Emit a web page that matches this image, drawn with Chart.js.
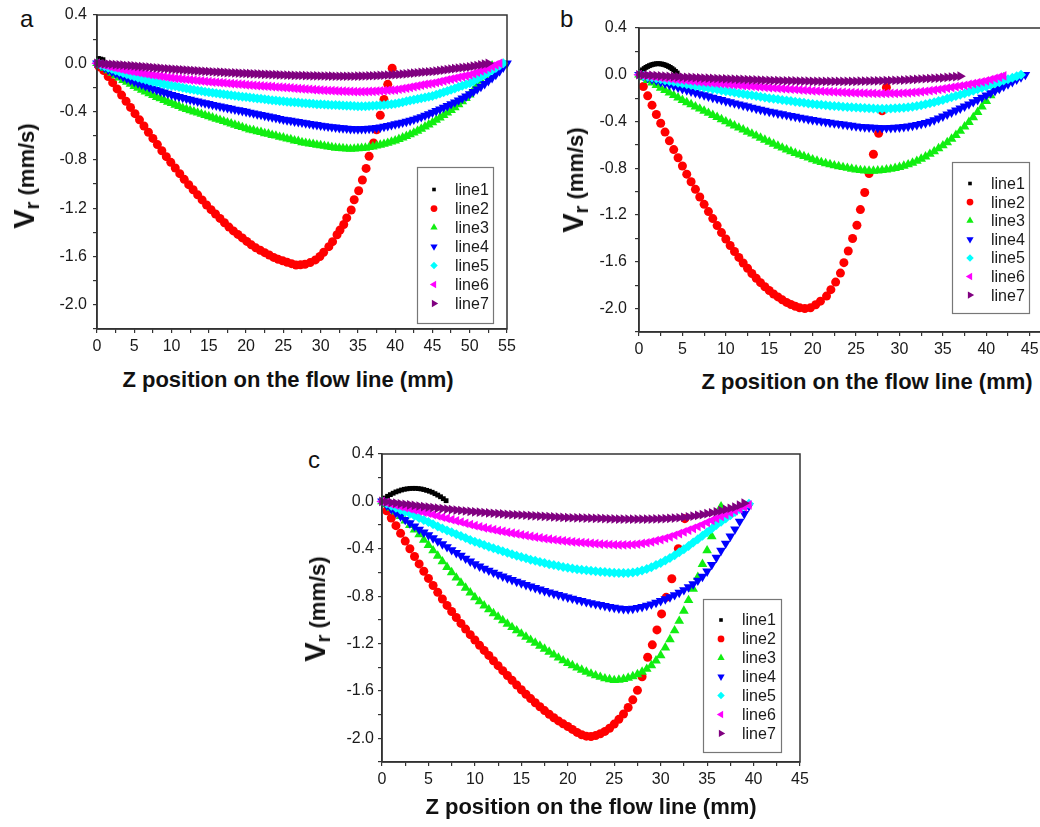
<!DOCTYPE html>
<html lang="en">
<head>
  <meta charset="UTF-8" />
  <title>Radial velocity along the flow lines</title>
  <script src="https://cdn.jsdelivr.net/npm/chart.js"></script>
  <style>
    body {
      margin: 0;
      width: 1040px;
      height: 827px;
      overflow: hidden;
      position: relative;
      background: #fff;
      font-family: Arial, "Liberation Sans", sans-serif;
      color: #111;
    }
    .panel { position: absolute; }
    .letter { position: absolute; font-size: 24px; line-height: 1; }
    .xtitle {
      position: absolute;
      font-weight: bold;
      font-size: 22px;
      line-height: 1;
      white-space: nowrap;
      transform: translateX(-50%);
    }
    .ytitle {
      position: absolute;
      font-weight: bold;
      font-size: 22px;
      line-height: 1;
      white-space: nowrap;
      transform: translate(-50%, -50%) rotate(-90deg);
    }
    .ytitle .big { font-size: 29px; }
    .ytitle sub { font-size: 20px; vertical-align: -5px; }
  </style>
</head>
<body>
  <div class="letter" style="left:20px; top:7px;">a</div>
  <div class="letter" style="left:560px; top:7px;">b</div>
  <div class="letter" style="left:308px; top:448px;">c</div>

  <canvas id="chartA" class="panel" width="520" height="360" style="left:0; top:0;"></canvas>
  <canvas id="chartB" class="panel" width="517" height="362" style="left:540px; top:0;"></canvas>
  <canvas id="chartC" class="panel" width="520" height="356" style="left:290px; top:440px;"></canvas>

  <div class="ytitle" style="left:26px; top:176px;"><span class="big">V</span><sub>r</sub> (mm/s)</div>
  <div class="ytitle" style="left:575px; top:180px;"><span class="big">V</span><sub>r</sub> (mm/s)</div>
  <div class="ytitle" style="left:317px; top:609px;"><span class="big">V</span><sub>r</sub> (mm/s)</div>

  <div class="xtitle" style="left:288px; top:369px;">Z position on the flow line (mm)</div>
  <div class="xtitle" style="left:867px; top:371px;">Z position on the flow line (mm)</div>
  <div class="xtitle" style="left:591px; top:796px;">Z position on the flow line (mm)</div>

  <script>
    // z positions (mm) shared by line3..line7 in all three panels
    const zGrid = [
      0,0.5,1,1.5,2,2.5,3,3.5,4,4.5,
      5,5.5,6,6.5,7,7.5,8,8.5,9,9.5,
      10,10.5,11,11.5,12,12.5,13,13.5,14,14.5,
      15,15.5,16,16.5,17,17.5,18,18.5,19,19.5,
      20,20.5,21,21.5,22,22.5,23,23.5,24,24.5,
      25,25.5,26,26.5,27,27.5,28,28.5,29,29.5,
      30,30.5,31,31.5,32,32.5,33,33.5,34,34.5,
      35,35.5,36,36.5,37,37.5,38,38.5,39,39.5,
      40,40.5,41,41.5,42,42.5,43,43.5,44,44.5,
      45,45.5,46,46.5,47,47.5,48,48.5,49,49.5,
      50,50.5,51,51.5,52,52.5,53,53.5,54,54.5,55
    ];

    const seriesNames = ['line1', 'line2', 'line3', 'line4', 'line5', 'line6', 'line7'];

    // ---- panel a ----
    const aLine1Z = [0.2, 0.5, 0.8];
    const aLine1 = [0.04, 0.035, 0.03];
    const aLine2Z = [
      0.3,0.9,1.5,2.1,2.7,3.3,3.9,4.5,5.1,5.7,
      6.3,6.9,7.5,8.1,8.7,9.3,9.9,10.5,11.1,11.7,
      12.3,12.9,13.5,14.1,14.7,15.3,15.9,16.5,17.1,17.7,
      18.3,18.9,19.5,20.1,20.7,21.3,21.9,22.5,23.1,23.7,
      24.3,24.9,25.5,26.1,26.7,
      27.3,27.9,28.6,29.3,29.9,30.4,31.1,31.6,32.2,32.6,
      33.1,33.5,34.1,34.5,35.1,35.6,36.1,36.5,37.1,37.5,
      38.0,38.5,39.0,39.6
    ];
    const aLine2 = [
      -0.03,-0.06,-0.109,-0.16,-0.212,-0.263,-0.314,-0.365,-0.417,-0.468,
      -0.519,-0.571,-0.622,-0.673,-0.724,-0.773,-0.82,-0.867,-0.914,-0.961,
      -1.005,-1.047,-1.089,-1.131,-1.173,-1.212,-1.248,-1.284,-1.32,-1.356,
      -1.388,-1.417,-1.446,-1.475,-1.503,-1.528,-1.548,-1.568,-1.587,-1.607,
      -1.623,-1.635,-1.647,-1.659,-1.67,
      -1.669,-1.664,-1.65,-1.628,-1.6,-1.565,-1.518,-1.477,-1.42,-1.38,
      -1.335,-1.28,-1.215,-1.13,-1.055,-0.966,-0.87,-0.77,-0.66,-0.55,
      -0.43,-0.3,-0.174,-0.04
    ];
    const aLine3 = [
      0,-0.02,-0.04,-0.06,-0.08,-0.1,-0.12,-0.14,-0.155,-0.17,
      -0.19,-0.205,-0.22,-0.235,-0.25,-0.265,-0.28,-0.29,-0.305,-0.32,
      -0.33,-0.345,-0.355,-0.37,-0.38,-0.39,-0.4,-0.41,-0.42,-0.43,
      -0.44,-0.45,-0.46,-0.47,-0.48,-0.49,-0.5,-0.51,-0.52,-0.53,
      -0.54,-0.55,-0.555,-0.565,-0.57,-0.58,-0.585,-0.595,-0.6,-0.61,
      -0.615,-0.625,-0.63,-0.64,-0.645,-0.655,-0.66,-0.665,-0.67,-0.675,
      -0.68,-0.685,-0.69,-0.695,-0.7,-0.703,-0.705,-0.708,-0.71,-0.708,
      -0.705,-0.703,-0.7,-0.695,-0.69,-0.683,-0.675,-0.668,-0.66,-0.65,
      -0.64,-0.628,-0.615,-0.603,-0.59,-0.575,-0.56,-0.543,-0.525,-0.508,
      -0.49,-0.47,-0.45,-0.43,-0.41,-0.388,-0.365,-0.34,-0.315,-0.288,
      -0.26,-0.223,-0.185,-0.145,-0.105,-0.063,-0.02
    ];
    const aLine4 = [
      0,-0.018,-0.035,-0.052,-0.068,-0.083,-0.097,-0.111,-0.125,-0.139,
      -0.152,-0.164,-0.175,-0.187,-0.198,-0.209,-0.22,-0.23,-0.24,-0.25,
      -0.26,-0.269,-0.277,-0.285,-0.293,-0.3,-0.308,-0.315,-0.322,-0.329,
      -0.336,-0.343,-0.349,-0.356,-0.362,-0.369,-0.375,-0.382,-0.388,-0.394,
      -0.4,-0.407,-0.413,-0.42,-0.426,-0.433,-0.439,-0.446,-0.452,-0.459,
      -0.465,-0.47,-0.475,-0.48,-0.485,-0.49,-0.495,-0.5,-0.505,-0.51,
      -0.515,-0.519,-0.523,-0.527,-0.53,-0.534,-0.537,-0.54,-0.543,-0.544,
      -0.545,-0.544,-0.543,-0.541,-0.538,-0.534,-0.53,-0.524,-0.518,-0.511,
      -0.503,-0.497,-0.49,-0.483,-0.475,-0.465,-0.455,-0.444,-0.432,-0.42,
      -0.407,-0.394,-0.38,-0.366,-0.352,-0.337,-0.322,-0.306,-0.29,-0.273,
      -0.255,-0.235,-0.215,-0.193,-0.17,-0.145,-0.12,-0.093,-0.065,-0.033,0
    ];
    const aLine5 = [
      0,-0.013,-0.025,-0.037,-0.048,-0.059,-0.07,-0.08,-0.09,-0.1,
      -0.11,-0.119,-0.128,-0.136,-0.144,-0.152,-0.159,-0.166,-0.173,-0.179,
      -0.185,-0.191,-0.197,-0.203,-0.208,-0.214,-0.219,-0.225,-0.23,-0.235,
      -0.24,-0.244,-0.248,-0.252,-0.256,-0.26,-0.264,-0.268,-0.272,-0.276,
      -0.28,-0.284,-0.287,-0.291,-0.294,-0.298,-0.301,-0.305,-0.308,-0.312,
      -0.315,-0.318,-0.32,-0.323,-0.325,-0.328,-0.33,-0.333,-0.335,-0.338,
      -0.34,-0.342,-0.343,-0.345,-0.346,-0.348,-0.349,-0.351,-0.352,-0.354,
      -0.355,-0.355,-0.355,-0.354,-0.352,-0.35,-0.348,-0.345,-0.342,-0.339,
      -0.335,-0.329,-0.322,-0.315,-0.308,-0.301,-0.295,-0.289,-0.283,-0.277,
      -0.27,-0.26,-0.25,-0.24,-0.23,-0.219,-0.208,-0.197,-0.186,-0.176,
      -0.165,-0.148,-0.13,-0.112,-0.094,-0.076,-0.057,-0.038,-0.019,0
    ];
    const aLine6 = [
      0,-0.008,-0.016,-0.024,-0.031,-0.038,-0.045,-0.052,-0.058,-0.064,
      -0.07,-0.076,-0.081,-0.086,-0.091,-0.096,-0.101,-0.106,-0.111,-0.116,
      -0.12,-0.124,-0.127,-0.131,-0.134,-0.137,-0.14,-0.143,-0.146,-0.149,
      -0.152,-0.155,-0.157,-0.16,-0.162,-0.165,-0.168,-0.17,-0.173,-0.175,
      -0.178,-0.18,-0.182,-0.185,-0.187,-0.189,-0.191,-0.193,-0.196,-0.198,
      -0.2,-0.202,-0.204,-0.207,-0.209,-0.211,-0.213,-0.215,-0.218,-0.22,
      -0.222,-0.224,-0.225,-0.227,-0.228,-0.23,-0.231,-0.232,-0.233,-0.234,
      -0.235,-0.235,-0.234,-0.233,-0.232,-0.23,-0.228,-0.226,-0.224,-0.222,
      -0.22,-0.215,-0.21,-0.205,-0.199,-0.193,-0.187,-0.181,-0.175,-0.17,
      -0.166,-0.159,-0.152,-0.145,-0.138,-0.131,-0.124,-0.117,-0.11,-0.104,
      -0.097,-0.086,-0.074,-0.062,-0.05,-0.038,-0.025,-0.013,0
    ];
    const aLine7 = [
      0,-0.002,-0.004,-0.006,-0.008,-0.011,-0.013,-0.015,-0.018,-0.02,
      -0.022,-0.025,-0.027,-0.03,-0.032,-0.035,-0.038,-0.04,-0.043,-0.045,
      -0.048,-0.05,-0.052,-0.054,-0.056,-0.058,-0.06,-0.062,-0.064,-0.066,
      -0.068,-0.07,-0.072,-0.073,-0.075,-0.077,-0.078,-0.08,-0.081,-0.083,
      -0.084,-0.085,-0.087,-0.088,-0.089,-0.091,-0.092,-0.093,-0.094,-0.096,
      -0.097,-0.098,-0.099,-0.1,-0.101,-0.101,-0.102,-0.103,-0.104,-0.104,
      -0.105,-0.105,-0.106,-0.106,-0.107,-0.107,-0.107,-0.107,-0.107,-0.107,
      -0.106,-0.106,-0.105,-0.104,-0.103,-0.102,-0.1,-0.099,-0.097,-0.096,
      -0.094,-0.092,-0.089,-0.087,-0.084,-0.081,-0.078,-0.075,-0.072,-0.07,
      -0.068,-0.064,-0.06,-0.056,-0.052,-0.048,-0.044,-0.04,-0.036,-0.033,
      -0.03,-0.024,-0.018,-0.012,-0.006,0
    ];

    // ---- panel b ----
    const bLine1Z = [0.2,0.4,0.6,0.8,1.0,1.2,1.4,1.6,1.8,2.0,2.2,2.4,2.6,2.8,3.0,3.2,3.4,3.6,3.8,4.0,4.2,4.4];
    const bLine1 = [0.029,0.042,0.053,0.063,0.071,0.078,0.084,0.089,0.092,0.094,0.095,0.094,0.092,0.089,0.084,0.078,0.071,0.063,0.053,0.042,0.029,0.015];
    const bLine2Z = [
      0.5,1,1.5,2,2.5,3,3.5,4,4.5,5,
      5.5,6,6.5,7,7.5,8,8.5,9,9.5,10,
      10.5,11,11.5,12,12.5,13,13.5,14,14.5,15,
      15.5,16,16.5,17,17.5,18,18.5,19.1,
      19.75,20.35,20.9,21.6,22.1,22.65,23.2,23.6,24.1,24.6,
      25.1,25.5,26.0,26.5,27.0,27.6,28.0,28.5
    ];
    const bLine2 = [
      -0.1,-0.18,-0.26,-0.34,-0.415,-0.49,-0.565,-0.64,-0.71,-0.78,
      -0.85,-0.915,-0.98,-1.045,-1.108,-1.17,-1.23,-1.29,-1.35,-1.405,
      -1.46,-1.512,-1.562,-1.61,-1.655,-1.7,-1.74,-1.778,-1.813,-1.845,
      -1.875,-1.9,-1.925,-1.947,-1.965,-1.98,-1.993,-2.0,
      -1.993,-1.967,-1.936,-1.893,-1.838,-1.773,-1.696,-1.607,-1.507,-1.4,
      -1.287,-1.153,-1.007,-0.845,-0.68,-0.5,-0.308,-0.108
    ];
    const bLine3 = [
      0,-0.023,-0.046,-0.068,-0.09,-0.112,-0.133,-0.154,-0.175,-0.196,
      -0.217,-0.236,-0.254,-0.273,-0.291,-0.309,-0.327,-0.345,-0.363,-0.382,
      -0.4,-0.418,-0.435,-0.453,-0.47,-0.488,-0.505,-0.522,-0.54,-0.557,
      -0.574,-0.591,-0.608,-0.624,-0.64,-0.655,-0.67,-0.684,-0.697,-0.71,
      -0.725,-0.737,-0.748,-0.758,-0.767,-0.776,-0.784,-0.791,-0.798,-0.805,
      -0.812,-0.817,-0.82,-0.822,-0.822,-0.82,-0.817,-0.812,-0.806,-0.799,
      -0.79,-0.78,-0.768,-0.754,-0.738,-0.72,-0.7,-0.678,-0.655,-0.63,
      -0.605,-0.578,-0.548,-0.516,-0.481,-0.444,-0.405,-0.364,-0.32,-0.274,
      -0.226,-0.177,-0.126,-0.075,-0.025
    ];
    const bLine4 = [
      0,-0.012,-0.025,-0.037,-0.049,-0.061,-0.073,-0.085,-0.097,-0.109,
      -0.12,-0.131,-0.142,-0.153,-0.164,-0.174,-0.184,-0.195,-0.205,-0.215,
      -0.225,-0.234,-0.243,-0.252,-0.261,-0.27,-0.28,-0.289,-0.298,-0.306,
      -0.315,-0.322,-0.33,-0.337,-0.344,-0.351,-0.358,-0.365,-0.372,-0.379,
      -0.385,-0.391,-0.397,-0.403,-0.409,-0.414,-0.419,-0.424,-0.429,-0.435,
      -0.44,-0.444,-0.447,-0.45,-0.452,-0.454,-0.455,-0.455,-0.454,-0.452,
      -0.45,-0.446,-0.441,-0.435,-0.428,-0.42,-0.411,-0.4,-0.388,-0.372,
      -0.355,-0.338,-0.321,-0.304,-0.287,-0.27,-0.252,-0.233,-0.214,-0.195,
      -0.175,-0.156,-0.138,-0.119,-0.1,-0.08,-0.06,-0.04,-0.02,0
    ];
    const bLine5 = [
      0,-0.008,-0.016,-0.024,-0.031,-0.039,-0.046,-0.053,-0.06,-0.068,
      -0.075,-0.082,-0.088,-0.095,-0.101,-0.108,-0.114,-0.121,-0.127,-0.134,
      -0.14,-0.146,-0.152,-0.158,-0.164,-0.17,-0.176,-0.182,-0.188,-0.194,
      -0.2,-0.205,-0.21,-0.215,-0.22,-0.225,-0.23,-0.235,-0.24,-0.245,
      -0.25,-0.254,-0.257,-0.261,-0.264,-0.267,-0.27,-0.273,-0.275,-0.278,
      -0.28,-0.282,-0.284,-0.286,-0.288,-0.29,-0.29,-0.29,-0.289,-0.287,
      -0.285,-0.282,-0.278,-0.273,-0.267,-0.26,-0.252,-0.244,-0.235,-0.225,
      -0.215,-0.204,-0.193,-0.182,-0.171,-0.16,-0.148,-0.136,-0.124,-0.112,
      -0.1,-0.088,-0.075,-0.063,-0.05,-0.038,-0.025,-0.013,0
    ];
    const bLine6 = [
      0,-0.005,-0.01,-0.015,-0.019,-0.024,-0.028,-0.032,-0.037,-0.041,
      -0.045,-0.049,-0.053,-0.056,-0.06,-0.063,-0.067,-0.07,-0.074,-0.077,
      -0.08,-0.083,-0.086,-0.089,-0.092,-0.095,-0.098,-0.101,-0.104,-0.107,
      -0.11,-0.113,-0.116,-0.118,-0.121,-0.124,-0.126,-0.129,-0.132,-0.134,
      -0.137,-0.139,-0.141,-0.143,-0.145,-0.146,-0.148,-0.15,-0.152,-0.153,
      -0.155,-0.156,-0.157,-0.158,-0.159,-0.16,-0.16,-0.16,-0.159,-0.159,
      -0.158,-0.156,-0.154,-0.151,-0.148,-0.145,-0.141,-0.136,-0.131,-0.126,
      -0.12,-0.114,-0.108,-0.102,-0.096,-0.09,-0.083,-0.075,-0.068,-0.06,
      -0.052,-0.042,-0.031,-0.021,-0.01
    ];
    const bLine7 = [
      0,-0.002,-0.004,-0.006,-0.008,-0.01,-0.012,-0.014,-0.016,-0.018,
      -0.02,-0.022,-0.023,-0.025,-0.026,-0.028,-0.029,-0.031,-0.032,-0.034,
      -0.035,-0.036,-0.038,-0.039,-0.04,-0.041,-0.043,-0.044,-0.045,-0.047,
      -0.048,-0.049,-0.05,-0.051,-0.052,-0.052,-0.053,-0.054,-0.055,-0.055,
      -0.056,-0.056,-0.057,-0.057,-0.057,-0.057,-0.057,-0.057,-0.056,-0.056,
      -0.056,-0.055,-0.054,-0.054,-0.053,-0.052,-0.051,-0.05,-0.049,-0.048,
      -0.047,-0.045,-0.043,-0.041,-0.039,-0.036,-0.034,-0.032,-0.03,-0.028,
      -0.026,-0.023,-0.019,-0.016,-0.012
    ];

    // ---- panel c ----
    const cLine1Z = [0.3,0.6,0.9,1.2,1.5,1.8,2.1,2.4,2.7,3.0,3.3,3.6,3.9,4.2,4.5,4.8,5.1,5.4,5.7,6.0,6.3,6.6,6.9];
    const cLine1 = [0.028,0.043,0.057,0.069,0.08,0.088,0.096,0.102,0.106,0.109,0.11,0.11,0.108,0.105,0.1,0.093,0.086,0.077,0.065,0.053,0.039,0.023,0.006];
    const cLine2Z = [
      0.5,1,1.5,2,2.5,3,3.5,4,4.5,5,
      5.5,6,6.5,7,7.5,8,8.5,9,9.5,10,
      10.5,11,11.5,12,12.5,13,13.5,14,14.5,15,
      15.5,16,16.5,17,17.5,18,18.5,19,19.5,20,
      20.5,21,21.5,22,
      22.5,23,23.5,24,24.5,25,25.5,26,26.5,27,
      27.5,28,28.6,29.1,29.6,30.1,30.6,31.2,31.9,32.6
    ];
    const cLine2 = [
      -0.08,-0.14,-0.205,-0.27,-0.335,-0.4,-0.465,-0.528,-0.59,-0.65,
      -0.71,-0.768,-0.824,-0.878,-0.93,-0.98,-1.03,-1.078,-1.125,-1.17,
      -1.215,-1.258,-1.3,-1.345,-1.387,-1.429,-1.47,-1.51,-1.55,-1.59,
      -1.628,-1.665,-1.7,-1.734,-1.766,-1.797,-1.826,-1.853,-1.878,-1.9,
      -1.925,-1.95,-1.97,-1.982,
      -1.985,-1.977,-1.962,-1.942,-1.915,-1.88,-1.84,-1.795,-1.74,-1.675,
      -1.595,-1.48,-1.316,-1.211,-1.085,-0.95,-0.81,-0.653,-0.4,-0.146
    ];
    const cLine3 = [
      0,-0.025,-0.055,-0.088,-0.125,-0.162,-0.2,-0.24,-0.28,-0.325,
      -0.37,-0.415,-0.46,-0.508,-0.555,-0.6,-0.645,-0.688,-0.73,-0.77,
      -0.81,-0.845,-0.88,-0.913,-0.945,-0.975,-1.005,-1.034,-1.063,-1.09,
      -1.118,-1.144,-1.17,-1.195,-1.22,-1.245,-1.27,-1.295,-1.32,-1.343,
      -1.365,-1.385,-1.405,-1.423,-1.44,-1.455,-1.47,-1.483,-1.495,-1.503,
      -1.51,-1.507,-1.5,-1.49,-1.477,-1.46,-1.44,-1.415,-1.385,-1.345,
      -1.3,-1.235,-1.165,-1.09,-1.01,-0.925,-0.835,-0.74,-0.64,-0.53,
      -0.415,-0.295,-0.17,-0.045
    ];
    const cLine4 = [
      0,-0.033,-0.065,-0.095,-0.125,-0.155,-0.183,-0.21,-0.237,-0.261,
      -0.285,-0.31,-0.335,-0.36,-0.385,-0.41,-0.434,-0.458,-0.482,-0.506,
      -0.53,-0.548,-0.566,-0.583,-0.6,-0.617,-0.633,-0.648,-0.663,-0.677,
      -0.69,-0.704,-0.717,-0.73,-0.743,-0.755,-0.767,-0.778,-0.789,-0.8,
      -0.81,-0.82,-0.83,-0.84,-0.849,-0.858,-0.866,-0.874,-0.882,-0.89,
      -0.897,-0.903,-0.907,-0.909,-0.905,-0.898,-0.89,-0.88,-0.868,-0.855,
      -0.84,-0.825,-0.808,-0.79,-0.77,-0.748,-0.724,-0.698,-0.668,-0.635,
      -0.59,-0.535,-0.475,-0.415,-0.355,-0.295,-0.235,-0.17,-0.105,-0.04
    ];
    const cLine5 = [
      0,-0.018,-0.036,-0.054,-0.071,-0.088,-0.105,-0.122,-0.14,-0.158,
      -0.175,-0.193,-0.211,-0.228,-0.245,-0.261,-0.277,-0.293,-0.309,-0.325,
      -0.34,-0.354,-0.368,-0.382,-0.395,-0.408,-0.421,-0.434,-0.446,-0.458,
      -0.47,-0.481,-0.492,-0.502,-0.512,-0.521,-0.53,-0.538,-0.546,-0.553,
      -0.56,-0.566,-0.572,-0.577,-0.582,-0.586,-0.59,-0.594,-0.597,-0.6,
      -0.602,-0.604,-0.605,-0.604,-0.6,-0.593,-0.584,-0.571,-0.556,-0.538,
      -0.52,-0.499,-0.477,-0.454,-0.43,-0.404,-0.376,-0.348,-0.32,-0.29,
      -0.26,-0.23,-0.2,-0.172,-0.144,-0.117,-0.09,-0.065,-0.042,-0.02
    ];
    const cLine6 = [
      0,-0.011,-0.022,-0.032,-0.042,-0.052,-0.062,-0.072,-0.081,-0.091,
      -0.1,-0.111,-0.122,-0.133,-0.143,-0.154,-0.164,-0.174,-0.185,-0.195,
      -0.205,-0.214,-0.223,-0.231,-0.239,-0.247,-0.254,-0.261,-0.268,-0.275,
      -0.282,-0.289,-0.296,-0.302,-0.308,-0.314,-0.319,-0.324,-0.329,-0.333,
      -0.337,-0.341,-0.345,-0.348,-0.351,-0.354,-0.357,-0.36,-0.362,-0.364,
      -0.366,-0.367,-0.367,-0.366,-0.364,-0.36,-0.355,-0.349,-0.341,-0.332,
      -0.322,-0.311,-0.299,-0.286,-0.272,-0.258,-0.243,-0.228,-0.212,-0.196,
      -0.178,-0.161,-0.144,-0.127,-0.111,-0.095,-0.079,-0.063,-0.047,-0.03
    ];
    const cLine7 = [
      0,-0.005,-0.01,-0.015,-0.02,-0.024,-0.029,-0.034,-0.039,-0.044,
      -0.048,-0.052,-0.057,-0.061,-0.065,-0.069,-0.073,-0.077,-0.081,-0.085,
      -0.088,-0.091,-0.094,-0.097,-0.1,-0.103,-0.106,-0.109,-0.111,-0.113,
      -0.115,-0.117,-0.12,-0.122,-0.124,-0.126,-0.128,-0.131,-0.133,-0.135,
      -0.137,-0.138,-0.139,-0.14,-0.141,-0.142,-0.143,-0.144,-0.145,-0.147,
      -0.148,-0.149,-0.149,-0.15,-0.15,-0.15,-0.15,-0.149,-0.149,-0.148,
      -0.147,-0.145,-0.143,-0.141,-0.138,-0.134,-0.13,-0.124,-0.118,-0.111,
      -0.104,-0.096,-0.088,-0.078,-0.068,-0.058,-0.048,-0.032,-0.015
    ];

    // marker look of line1..line7
    const seriesStyle = [
      { color: '#000000', pointStyle: 'rect', radius: 3.4, rotation: 0 },
      { color: '#ff0000', pointStyle: 'circle', radius: 4.5, rotation: 0 },
      { color: '#11ee11', pointStyle: 'triangle', radius: 5.6, rotation: 0 },
      { color: '#0000ff', pointStyle: 'triangle', radius: 5.6, rotation: 180 },
      { color: '#00ffff', pointStyle: 'rectRot', radius: 5, rotation: 0 },
      { color: '#ff00ff', pointStyle: 'triangle', radius: 5.6, rotation: 270 },
      { color: '#800080', pointStyle: 'triangle', radius: 5.6, rotation: 90 }
    ];

    const FONT = 'Arial, "Liberation Sans", sans-serif';
    const AXIS = '#333333';

    function pairs(z, v) {
      return v.map((y, i) => ({ x: z[i], y: y }));
    }

    // box round the plot area
    const framePlugin = {
      id: 'frame',
      afterDraw(chart) {
        const a = chart.chartArea, ctx = chart.ctx;
        ctx.save();
        ctx.strokeStyle = AXIS;
        ctx.lineWidth = 1.5;
        ctx.strokeRect(a.left, a.top, a.right - a.left, a.bottom - a.top);
        ctx.restore();
      }
    };

    // legend drawn inside the plot, like the Origin one
    const boxLegend = {
      id: 'boxLegend',
      afterDraw(chart, args, o) {
        const ctx = chart.ctx;
        ctx.save();
        ctx.fillStyle = '#ffffff';
        ctx.fillRect(o.x, o.y, o.w, o.h);
        ctx.strokeStyle = '#777777';
        ctx.lineWidth = 1.2;
        ctx.strokeRect(o.x + 0.5, o.y + 0.5, o.w, o.h);
        ctx.font = '16px ' + FONT;
        ctx.textBaseline = 'middle';
        chart.data.datasets.forEach((ds, i) => {
          const y = o.rowY + i * o.rowGap;
          ctx.fillStyle = ds.backgroundColor;
          Chart.helpers.drawPoint(ctx, {
            pointStyle: ds.pointStyle,
            radius: ds.pointRadius * 0.75,
            rotation: ds.pointRotation,
            borderWidth: 0
          }, o.markX, y);
          ctx.fillStyle = '#1a1a1a';
          ctx.fillText(ds.label, o.textX, y + 1);
        });
        ctx.restore();
      }
    };

    function makePanel(id, p) {
      const datasets = p.series.map((s, i) => ({
        label: seriesNames[i],
        data: pairs(s[0], s[1]),
        pointStyle: seriesStyle[i].pointStyle,
        pointRadius: seriesStyle[i].radius,
        pointRotation: seriesStyle[i].rotation,
        backgroundColor: seriesStyle[i].color,
        borderColor: seriesStyle[i].color,
        pointBorderWidth: 0,
        showLine: false,
        clip: false,
        order: 7 - i
      }));

      return new Chart(document.getElementById(id), {
        type: 'scatter',
        data: { datasets },
        plugins: [framePlugin, boxLegend],
        options: {
          responsive: false,
          animation: false,
          events: [],
          layout: { padding: { left: 0, top: p.padTop, right: p.padRight, bottom: 0 } },
          plugins: {
            legend: { display: false },
            tooltip: { enabled: false },
            boxLegend: p.legend
          },
          scales: {
            x: {
              type: 'linear',
              min: 0,
              max: p.xMax,
              border: { color: AXIS, width: 1.5 },
              grid: { drawOnChartArea: false, color: AXIS, tickLength: 4, lineWidth: 1.2 },
              ticks: {
                stepSize: 2.5,
                autoSkip: false,
                maxRotation: 0,
                padding: 4,
                color: '#1a1a1a',
                font: { family: FONT, size: 16 },
                callback: v => (Math.round(v * 2) % 10 === 0 ? String(Math.round(v)) : '')
              },
              afterFit: s => { s.height = p.xHeight; s.paddingLeft = 0; s.paddingRight = 0; }
            },
            y: {
              type: 'linear',
              min: -2.2,
              max: 0.4,
              border: { color: AXIS, width: 1.5 },
              grid: { drawOnChartArea: false, color: AXIS, tickLength: 4, lineWidth: 1.2 },
              ticks: {
                stepSize: 0.2,
                autoSkip: false,
                padding: p.yPad,
                color: '#1a1a1a',
                font: { family: FONT, size: 16 },
                callback: v => (Math.round(v * 10) % 4 === 0 ? (Math.round(v * 10) / 10).toFixed(1) : '')
              },
              afterFit: s => { s.width = p.yWidth; s.paddingTop = 0; s.paddingBottom = 0; }
            }
          }
        }
      });
    }

    makePanel('chartA', {
      xMax: 55, yWidth: 97, xHeight: 31, padTop: 15, padRight: 13, yPad: 6,
      legend: { x: 417, y: 167, w: 76, h: 156, rowY: 189.5, rowGap: 19, markX: 434, textX: 455 },
      series: [[aLine1Z, aLine1], [aLine2Z, aLine2], [zGrid, aLine3], [zGrid, aLine4],
               [zGrid, aLine5], [zGrid, aLine6], [zGrid, aLine7]]
    });

    // the right end of panel b runs past the page edge
    makePanel('chartB', {
      xMax: 47.5, yWidth: 99, xHeight: 30, padTop: 28, padRight: 3, yPad: 8,
      legend: { x: 412, y: 162, w: 77, h: 151, rowY: 183.5, rowGap: 18.6, markX: 430, textX: 451 },
      series: [[bLine1Z, bLine1], [bLine2Z, bLine2], [zGrid, bLine3], [zGrid, bLine4],
               [zGrid, bLine5], [zGrid, bLine6], [zGrid, bLine7]]
    });

    makePanel('chartC', {
      xMax: 45, yWidth: 92, xHeight: 34, padTop: 14, padRight: 10, yPad: 4,
      legend: { x: 413, y: 159, w: 78, h: 153, rowY: 180, rowGap: 18.9, markX: 431, textX: 452 },
      series: [[cLine1Z, cLine1], [cLine2Z, cLine2], [zGrid, cLine3], [zGrid, cLine4],
               [zGrid, cLine5], [zGrid, cLine6], [zGrid, cLine7]]
    });
  </script>
</body>
</html>
